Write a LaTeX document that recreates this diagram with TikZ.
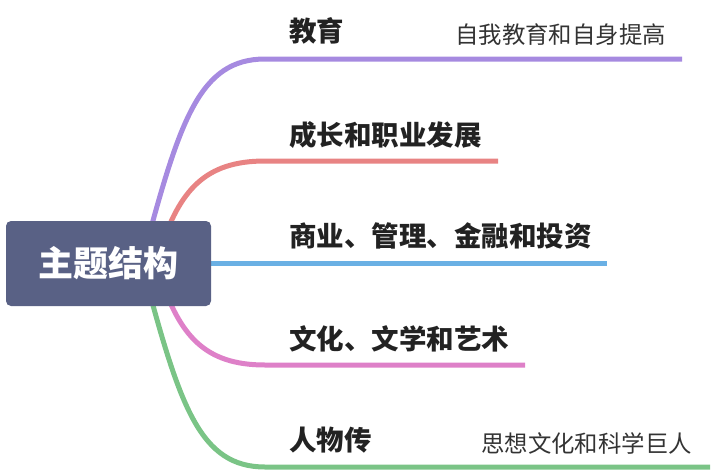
\documentclass[tikz,border=0pt]{standalone}
\usepackage{fontspec}
\setmainfont{Noto Sans CJK SC}
\usetikzlibrary{backgrounds}

\definecolor{rootfill}{HTML}{596185}
\definecolor{edupurple}{HTML}{A68AE0}
\definecolor{careerred}{HTML}{E88383}
\definecolor{bizblue}{HTML}{6AB0E4}
\definecolor{artpink}{HTML}{DE80C8}
\definecolor{biogreen}{HTML}{7AC486}
\definecolor{labeltext}{HTML}{222222}
\definecolor{subtext}{HTML}{333333}

\tikzset{
  branch/.style={line width=5pt},
  toplabel/.style={anchor=base west, inner sep=0pt, text=labeltext,
    font=\fontsize{27.5}{27.5}\selectfont\bfseries},
  sublabel/.style={anchor=base west, inner sep=0pt, text=subtext,
    font=\fontsize{23.4}{23.4}\selectfont},
}

\begin{document}
\begin{tikzpicture}[x=1pt,y=-1pt]
\useasboundingbox (0,0) rectangle (716,472);

\node[fill=rootfill, rounded corners=5pt, minimum width=205pt, minimum height=85pt,
  inner sep=0pt, text=white, font=\fontsize{35}{35}\selectfont\bfseries] (root) at (108.5,263.5) {主题结构};

\coordinate (eduend) at (682,59);
\coordinate (careerend) at (498,161);
\coordinate (bizend) at (607,263.5);
\coordinate (artend) at (525,365);
\coordinate (bioend) at (710,467);

\begin{scope}[on background layer]
\draw[branch, edupurple] (root.center) -- (145,250) .. controls (180,120) and (200,59) .. (265,59) -- (eduend);
\draw[branch, careerred] (root.center) -- (160,250) .. controls (180,190) and (205,161) .. (265,161) -- (careerend);
\draw[branch, bizblue] (root.center) -- (bizend);
\draw[branch, artpink] (root.center) -- (160,276) .. controls (180,336) and (205,365) .. (265,365) -- (artend);
\draw[branch, biogreen] (root.center) -- (145,276) .. controls (180,406) and (200,467) .. (265,467) -- (bioend);
\end{scope}

% branch labels
\node[toplabel] (edu) at (289,41) {教育};
\node[toplabel] (career) at (289,145) {成长和职业发展};
\node[toplabel] (biz) at (289,246) {商业、管理、金融和投资};
\node[toplabel] (art) at (289,349) {文化、文学和艺术};
\node[toplabel] (bio) at (289,450) {人物传};

% sub topics
\node[sublabel] (self) at (455,43) {自我教育和自身提高};
\node[sublabel] (giants) at (481,452) {思想文化和科学巨人};
\end{tikzpicture}
\end{document}
